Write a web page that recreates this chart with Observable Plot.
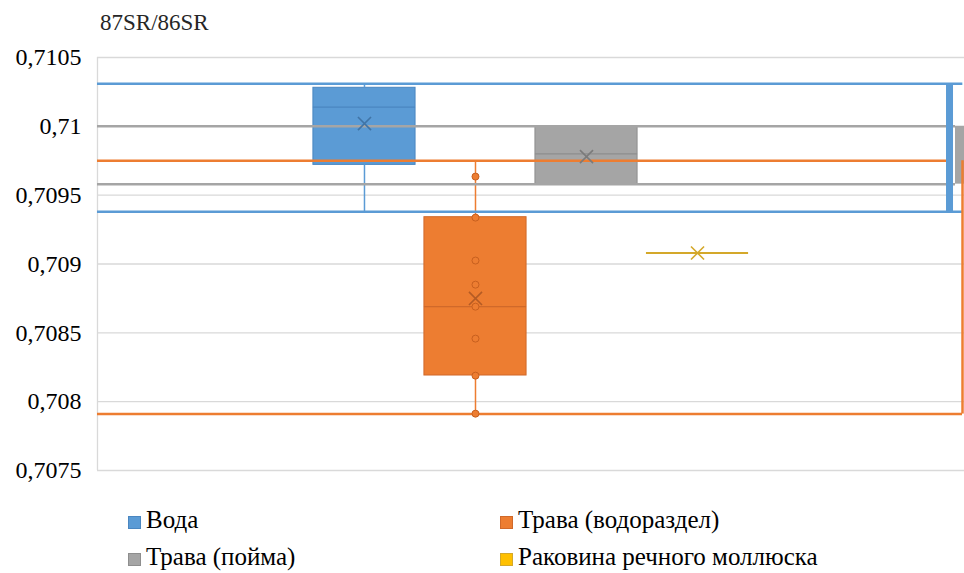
<!DOCTYPE html>
<html><head><meta charset="utf-8">
<script src="https://cdn.jsdelivr.net/npm/d3@7"></script>
<script src="https://cdn.jsdelivr.net/npm/@observablehq/plot@0.6"></script>
<style>
body{margin:0;background:#fff;}
#wrap{position:relative;width:964px;height:573px;overflow:hidden;}
#wrap, #wrap *{font-family:'Liberation Serif','DejaVu Serif',serif !important;}
#title{position:absolute;left:100px;top:10px;font-size:23px;color:#262626;}
#chart{position:absolute;left:0;top:45px;}
.leg{position:absolute;font-size:25px;color:#000;white-space:nowrap;line-height:30px;}
.sw{display:inline-block;width:13px;height:13px;margin-right:5px;box-sizing:border-box;border:1px solid;vertical-align:-1px;}
</style></head>
<body><div id="wrap"><div id="title">87SR/86SR</div><div id="chart"></div></div>
<script>
// ---- data ----
const series = ["Вода", "Трава (водораздел)", "Трава (пойма)", "Раковина речного моллюска"];
const fills = ["#5B9BD5", "#ED7D31", "#A5A5A5", "#FFC000"];
const strokes = ["#4A86C0", "#D0692A", "#8E8E8E", "#D4A82A"];
const whiskerLow  = [0.70938, 0.70791, 0.70958, 0.70908];
const q1          = [0.70972, 0.70819, 0.70958, 0.70908];
const median      = [0.71014, 0.70869, 0.70980, 0.70908];
const q3          = [0.71028, 0.70934, 0.71000, 0.70908];
const whiskerHigh = [0.71031, 0.70975, 0.71000, 0.70908];
const mean        = [0.71002, 0.70875, 0.70978, 0.70908];
const vodorazdelPoints = [0.709635, 0.709337, 0.709025, 0.70885, 0.70869, 0.708458, 0.708189, 0.707913];
const yTicks = [0.7075, 0.708, 0.7085, 0.709, 0.7095, 0.71, 0.7105];

const xMin = 2 - 3.905, xMax = 2 + 3.905;
const half = 0.46;
const boxes = series.map((s, i) => ({
  s, i, c: i + 0.5, fill: fills[i], stroke: strokes[i],
  lo: whiskerLow[i], q1: q1[i], med: median[i], q3: q3[i], hi: whiskerHigh[i], mean: mean[i]
}));
const realBoxes = boxes.filter(d => d.q3 > d.q1);
const pts = vodorazdelPoints.map(v => ({c: 1.5, v}));
const fmt = d => String(d).replace(".", ",");

// artefact lines Excel drew across the plot (same values as the boxes)
const B = boxes[0], O = boxes[1], G = boxes[2];
const ghostLines = [
  {y: B.hi, x2: 5.89, color: fills[0]}, {y: B.lo, x2: 5.89, color: fills[0]},
  {y: G.q3, x2: 5.824, color: fills[2]}, {y: G.q1, x2: 5.824, color: fills[2]},
  {y: O.hi, x2: 5.743, color: fills[1]}, {y: O.lo, x2: 5.887, color: fills[1]}
];

const plot = Plot.plot({
  width: 964, height: 445,
  marginLeft: 97, marginRight: 0, marginTop: 12, marginBottom: 20,
  style: {fontSize: "24px", color: "#000", background: "transparent", overflow: "visible"},
  x: {domain: [xMin, xMax], axis: null},
  y: {domain: [0.7075, 0.7105]},
  marks: [
    Plot.ruleY(yTicks, {stroke: "#D9D9D9", strokeWidth: 1.3}),
    Plot.ruleX([xMin], {stroke: "#D9D9D9", strokeWidth: 1.3}),
    Plot.axisY(yTicks, {tickFormat: fmt, tickSize: 0, tickPadding: 16, fontSize: 24, fill: "#000", label: null}),
    Plot.rect(realBoxes, {x1: d => d.c - half, x2: d => d.c + half, y1: "q1", y2: "q3", fill: "fill", stroke: "stroke", strokeWidth: 1}),
    Plot.ruleY(realBoxes, {y: "med", x1: d => d.c - half, x2: d => d.c + half, stroke: "stroke", strokeWidth: 1.2}),
    Plot.ruleX(realBoxes, {x: "c", y1: "lo", y2: "q1", stroke: "fill", strokeWidth: 1.5}),
    Plot.ruleX(realBoxes, {x: "c", y1: "q3", y2: "hi", stroke: "fill", strokeWidth: 1.5}),
    Plot.ruleY(boxes.filter(d => d.q3 === d.q1 && d.lo === d.hi), {y: "med", x1: d => d.c - half, x2: d => d.c + half, stroke: "stroke", strokeWidth: 2}),
    Plot.ruleY(ghostLines, {y: "y", x1: xMin, x2: "x2", stroke: "color", strokeWidth: 2.5}),
    Plot.rect([G], {x1: 5.824, x2: xMax + 0.1, y1: "q1", y2: "q3", fill: "fill"}),
    Plot.rect([B], {x1: 5.743, x2: 5.806, y1: "lo", y2: "hi", fill: "fill"}),
    Plot.ruleX([O], {x: 5.887, y1: "lo", y2: "hi", stroke: "fill", strokeWidth: 2.5}),
    Plot.dot(pts, {x: "c", y: "v", r: 3.5, fill: fills[1], stroke: "#C8601F", strokeWidth: 1}),
    Plot.dot(boxes, {x: "c", y: "mean", symbol: "times", r: 6, stroke: d => d.i === 3 ? d.stroke : d3.color(d.stroke).darker(0.4).formatHex(), strokeWidth: 1.6})
  ]
});
document.getElementById("chart").appendChild(plot);

const legPos = [[128, 520], [500, 520], [128, 557], [500, 557]];
series.forEach((s, i) => {
  const el = document.createElement("div");
  el.className = "leg";
  el.style.left = legPos[i][0] + "px";
  el.style.top = (legPos[i][1] - 15) + "px";
  const sw = document.createElement("span");
  sw.className = "sw";
  sw.style.background = fills[i];
  sw.style.borderColor = strokes[i];
  el.append(sw, document.createTextNode(s));
  document.getElementById("wrap").appendChild(el);
});
</script></body></html>
